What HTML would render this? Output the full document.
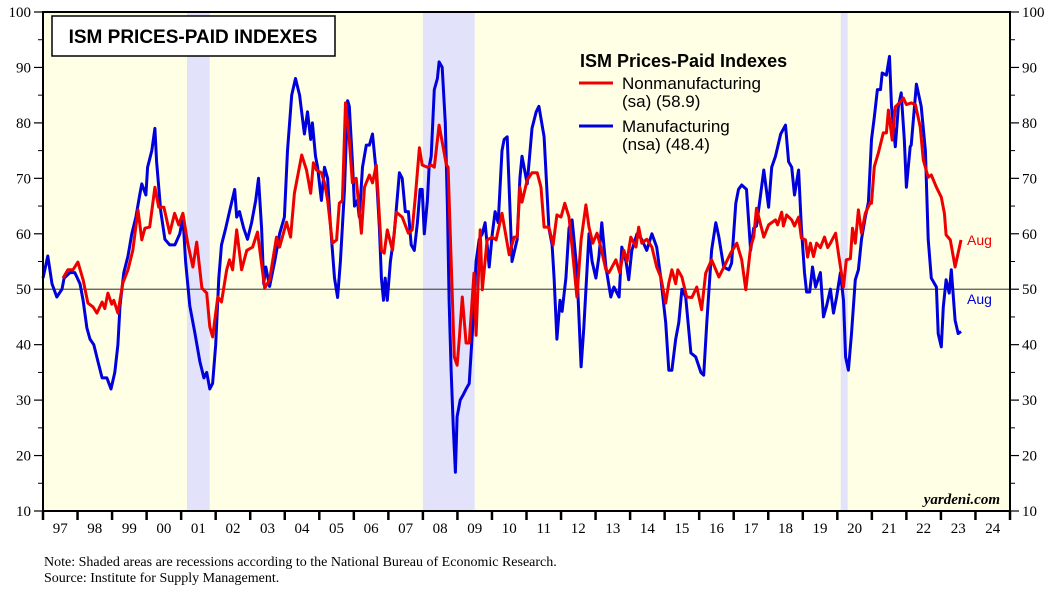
<!DOCTYPE html>
<html><head><meta charset="utf-8"><style>
body{margin:0;background:#fff;width:1063px;height:600px;overflow:hidden}
svg{display:block}
</style></head><body>
<svg id="chart" width="1063" height="600" xmlns="http://www.w3.org/2000/svg" font-family="Liberation Sans, sans-serif">
</svg>
<script>
const manDates=[1997.00,1997.14,1997.26,1997.40,1997.55,1997.61,1997.78,1997.92,1998.07,1998.16,1998.27,1998.36,1998.47,1998.59,1998.71,1998.85,1998.97,1999.08,1999.17,1999.23,1999.34,1999.46,1999.57,1999.69,1999.80,1999.86,1999.98,2000.03,2000.15,2000.24,2000.29,2000.41,2000.53,2000.67,2000.82,2000.96,2001.05,2001.13,2001.25,2001.40,2001.54,2001.66,2001.74,2001.83,2001.91,2002.00,2002.09,2002.17,2002.29,2002.40,2002.55,2002.61,2002.69,2002.81,2002.92,2003.04,2003.16,2003.24,2003.33,2003.39,2003.45,2003.56,2003.71,2003.85,2003.99,2004.08,2004.20,2004.31,2004.43,2004.57,2004.66,2004.75,2004.80,2004.89,2004.95,2005.06,2005.15,2005.24,2005.32,2005.44,2005.53,2005.61,2005.73,2005.82,2005.87,2005.96,2006.02,2006.10,2006.16,2006.25,2006.36,2006.45,2006.54,2006.65,2006.74,2006.80,2006.86,2006.91,2006.97,2007.06,2007.17,2007.32,2007.40,2007.49,2007.58,2007.66,2007.75,2007.84,2007.92,2007.98,2008.04,2008.13,2008.18,2008.24,2008.33,2008.42,2008.47,2008.56,2008.65,2008.71,2008.76,2008.82,2008.88,2008.94,2008.99,2009.08,2009.17,2009.25,2009.34,2009.43,2009.54,2009.63,2009.72,2009.80,2009.92,2010.01,2010.09,2010.18,2010.29,2010.35,2010.44,2010.58,2010.73,2010.81,2010.87,2011.02,2011.16,2011.28,2011.36,2011.51,2011.65,2011.74,2011.80,2011.88,2011.97,2012.03,2012.14,2012.23,2012.32,2012.46,2012.58,2012.66,2012.81,2012.90,2013.01,2013.10,2013.18,2013.30,2013.44,2013.53,2013.68,2013.76,2013.88,2013.96,2014.05,2014.20,2014.34,2014.48,2014.63,2014.77,2014.89,2015.03,2015.12,2015.21,2015.32,2015.41,2015.50,2015.61,2015.76,2015.90,2016.05,2016.13,2016.22,2016.36,2016.48,2016.57,2016.71,2016.86,2016.94,2017.06,2017.14,2017.23,2017.37,2017.49,2017.58,2017.66,2017.87,2018.01,2018.10,2018.21,2018.36,2018.50,2018.59,2018.68,2018.76,2018.88,2018.96,2019.05,2019.11,2019.20,2019.28,2019.37,2019.51,2019.60,2019.69,2019.80,2019.89,2019.98,2020.09,2020.18,2020.24,2020.32,2020.41,2020.52,2020.61,2020.70,2020.81,2020.90,2020.99,2021.07,2021.16,2021.25,2021.30,2021.42,2021.51,2021.57,2021.68,2021.77,2021.85,2021.94,2022.00,2022.11,2022.14,2022.29,2022.43,2022.55,2022.63,2022.72,2022.87,2022.92,2023.01,2023.07,2023.15,2023.24,2023.30,2023.41,2023.50,2023.58];
const manValues=[52,56,51,48.6,50,52,53,53,51,48,43,41,40,37,34,34,32,35,40,47,53,56,60,63,67,69,67,72,75,79,73,64,59,58,58,60,63,55,47,42,37,34,35,32,33,40,52,58,61,64,68,63,64,61,59,62,66,70,61,51,54,50.5,55,60,63,75,85,88,85,78,82,77,80,74,72,66,72,70,62,52,48.5,55,68,84,83,73,65,66,63,72,76,76,78,71,61,52,48,52,48,55,60,71,70,64,64,58,57,62,68,68,60,66,72,74,86,88,91,90,80,65,48,35,25,17,27,30,31,32,33,42,55,59,60,62,54,60,64,62,75,77,77.5,55,59,70,74,69,79,82,83,77.5,61,58,52,41,48,46,52,61,62.5,53.5,36,43,60,55,52,56,62,54,48.6,50.4,48.6,57.6,55,51.7,57,60,59,57,60,57.6,52,44,35.4,35.4,41,44,50,48.6,38.5,37.8,35,34.5,44,57,62,59.4,54,53.5,54.7,65.5,68,68.8,68,57,61,61.4,71.5,64.8,72,74,78,79.6,73,72,67,71.5,61,53,49.5,49.5,54,50.4,53,45,47,50,45.7,48.6,53,48,37.8,35.4,42,51.7,53.5,59,63,65.7,77,81,86,86,89,88.6,92,83,75.7,83,85.4,77,68.4,75.7,76,87,83,75,59,52,50.4,42,39.6,46.8,51.7,49.3,53.5,44.4,42,42.4,48.4];
const nonDates=[1997.58,1997.72,1997.87,1998.01,1998.16,1998.30,1998.45,1998.56,1998.71,1998.79,1998.88,1998.99,1999.05,1999.17,1999.31,1999.46,1999.60,1999.75,1999.86,1999.95,2000.09,2000.24,2000.35,2000.50,2000.67,2000.81,2000.93,2001.05,2001.19,2001.34,2001.45,2001.60,2001.74,2001.83,2001.91,2002.06,2002.17,2002.32,2002.40,2002.49,2002.61,2002.75,2002.90,2003.07,2003.21,2003.42,2003.56,2003.76,2003.85,2004.05,2004.17,2004.28,2004.49,2004.63,2004.75,2004.83,2004.92,2005.06,2005.15,2005.24,2005.38,2005.50,2005.58,2005.67,2005.76,2005.87,2005.96,2006.07,2006.22,2006.31,2006.45,2006.54,2006.65,2006.80,2006.88,2006.97,2007.12,2007.23,2007.40,2007.58,2007.69,2007.78,2007.90,2007.98,2008.13,2008.24,2008.33,2008.47,2008.68,2008.73,2008.85,2008.91,2008.99,2009.05,2009.14,2009.25,2009.34,2009.48,2009.54,2009.66,2009.72,2009.86,2010.01,2010.12,2010.29,2010.50,2010.64,2010.73,2010.81,2010.87,2011.02,2011.16,2011.31,2011.42,2011.51,2011.65,2011.77,2011.88,2012.00,2012.11,2012.23,2012.32,2012.46,2012.58,2012.72,2012.81,2012.92,2013.04,2013.15,2013.30,2013.39,2013.59,2013.70,2013.82,2013.91,2014.02,2014.17,2014.25,2014.34,2014.48,2014.63,2014.77,2014.89,2015.03,2015.12,2015.21,2015.32,2015.38,2015.50,2015.64,2015.79,2015.93,2016.07,2016.19,2016.36,2016.57,2016.77,2016.91,2017.09,2017.23,2017.35,2017.49,2017.58,2017.66,2017.87,2018.01,2018.21,2018.27,2018.39,2018.44,2018.53,2018.68,2018.76,2018.88,2018.96,2019.08,2019.14,2019.22,2019.31,2019.40,2019.51,2019.63,2019.72,2019.80,2019.95,2020.03,2020.18,2020.26,2020.38,2020.44,2020.52,2020.61,2020.70,2020.81,2020.96,2020.99,2021.07,2021.19,2021.33,2021.42,2021.48,2021.59,2021.68,2021.83,2021.91,2022.00,2022.14,2022.26,2022.40,2022.49,2022.63,2022.72,2022.87,2023.01,2023.10,2023.15,2023.27,2023.41,2023.58];
const nonValues=[52,53.5,53.5,54.9,51.7,47.5,46.8,45.7,47.7,46.5,49.3,47.3,48,45.7,51.1,53.5,57,64.3,58.9,61,61.2,68.4,64.8,64.8,60.1,63.7,61.6,63.7,58.3,54,58.5,50.2,49.3,43.2,41.4,48.6,47.7,53.5,55.3,53.5,60.7,53.5,57,57.6,60.3,50.2,51.7,59.4,57.6,62.1,59.4,67.3,74.2,71.5,67.3,72.8,71.5,71,69.2,66.1,58.3,58.9,65.5,66,83.6,76.9,69.2,70,60.1,68.4,70.6,69.2,72.4,57,56.5,60.7,57,63.9,63,60.1,60.7,66.6,75.5,72.4,72,72.4,72,79.6,72.4,72,49.3,37.8,36.3,40.8,48.6,40.3,40.3,52.9,41.7,60.7,49.9,58.9,59.4,58.9,63.7,56.2,59.4,59.4,68.4,65.7,69.7,71,71,68.4,61.2,61.2,58,63.4,63,65.5,63,57.6,48.6,58.9,65.2,61.2,58.3,60.1,57.6,53.5,53,55.3,53,57,55,59.4,57.6,61.2,58.3,59,57.6,54,52.2,47.5,51.1,53.5,51,53.5,52.2,48.6,48.5,50.4,46.3,52.9,55.3,52.2,54.7,56.5,58.3,55.3,49.9,57.6,59.4,64.6,59.4,61.6,62.5,61.6,63.9,61.4,63.4,62.5,61.4,63,59.2,58.9,55.8,58.3,55.9,58.3,57.5,59.4,57.5,58.3,60.1,56.5,50.4,55.3,55.5,61,58.3,64.3,60.1,63.7,65.7,65.5,72.1,74.6,78.2,78.2,82.3,76.9,82.9,83.8,84.5,83.3,83.6,83.3,79.3,73.3,70.2,70.6,68.4,66.6,63.7,59.8,58.9,54,58.9];
const recessionStarts=[2001.17,2008.0,2020.1];
const recessionEnds=[2001.83,2009.5,2020.3];
const yTicks=[10,20,30,40,50,60,70,80,90,100];
const yearLabels=["97","98","99","00","01","02","03","04","05","06","07","08","09","10","11","12","13","14","15","16","17","18","19","20","21","22","23","24"];

const L=43,R=1010,T=12,B=511,Y0=1997,Y1=2025,V0=10,V1=100;
const xs=d=>L+(d-Y0)/(Y1-Y0)*(R-L);
const ys=v=>B-(v-V0)/(V1-V0)*(B-T);
const svg=document.getElementById('chart');
const NS='http://www.w3.org/2000/svg';
function mk(tag,attrs,parent){const e=document.createElementNS(NS,tag);for(const k in attrs)e.setAttribute(k,attrs[k]);(parent||svg).appendChild(e);return e;}

let e=mk('rect',{x:L,y:T,width:R-L,height:B-T,fill:'#FFFFE6'});


recessionStarts.forEach((s,i)=>{
  const r=mk('rect',{x:xs(s),y:T,width:xs(recessionEnds[i])-xs(s),height:B-T,fill:'#E2E2FA'});
  
  
});
e=mk('line',{x1:L,x2:R,y1:ys(50),y2:ys(50),stroke:'#555',"stroke-width":1.2});



function series(dates,vals,color,name){
  const p=mk('polyline',{points:dates.map((d,i)=>xs(d).toFixed(1)+','+ys(vals[i]).toFixed(1)).join(' '),fill:'none',stroke:color,"stroke-width":3,"stroke-linejoin":"round"});
  
  
}
series(manDates,manValues,'#0000DD','manufacturing-line');
series(nonDates,nonValues,'#EE0000','nonmanufacturing-line');

e=mk('rect',{x:L,y:T,width:R-L,height:B-T,fill:'none',stroke:'#000',"stroke-width":2});



yTicks.forEach(v=>{
  const y=ys(v);
  mk('line',{x1:L-9,x2:L,y1:y,y2:y,stroke:'#000',"stroke-width":1.2});
  mk('line',{x1:R,x2:R+9,y1:y,y2:y,stroke:'#000',"stroke-width":1.2});
  if(v<100){const y5=ys(v+5);mk('line',{x1:L-5,x2:L,y1:y5,y2:y5,stroke:'#000'});mk('line',{x1:R,x2:R+5,y1:y5,y2:y5,stroke:'#000'});}
  let t=mk('text',{x:L-12,y:y+5,"text-anchor":"end","font-family":"Liberation Serif, serif","font-size":15});
  t.textContent=v;
  
  
  t=mk('text',{x:R+12,y:y+5,"font-family":"Liberation Serif, serif","font-size":15});
  t.textContent=v;
  
  
});
yearLabels.forEach((lab,i)=>{
  const x=xs(Y0+i);
  mk('line',{x1:x,x2:x,y1:B,y2:B+9,stroke:'#000',"stroke-width":2.5});
  const t=mk('text',{x:xs(Y0+i+0.5),y:B+22,"text-anchor":"middle","font-family":"Liberation Serif, serif","font-size":15});
  t.textContent=lab;
  
  
});
mk('line',{x1:R,x2:R,y1:B,y2:B+9,stroke:'#000',"stroke-width":2.5});
</script>
<svg style="position:absolute;left:0;top:0" width="1063" height="600" xmlns="http://www.w3.org/2000/svg" font-family="Liberation Sans, sans-serif">
  <g>
    <rect x="52" y="16" width="283" height="40" fill="#fff" stroke="#000" stroke-width="1.5"/>
    <text x="193" y="43" text-anchor="middle" font-size="19" font-weight="bold">ISM PRICES-PAID INDEXES</text>
  </g>
  <g>
    <text x="580" y="67" font-size="18" font-weight="bold">ISM Prices-Paid Indexes</text>
    <line x1="579" x2="613" y1="83" y2="83" stroke="#EE0000" stroke-width="3"/>
    <text x="622" y="89" font-size="17">Nonmanufacturing</text>
    <text x="622" y="107" font-size="17">(sa) (58.9)</text>
    <line x1="579" x2="613" y1="126" y2="126" stroke="#0000DD" stroke-width="3"/>
    <text x="622" y="132" font-size="17">Manufacturing</text>
    <text x="622" y="150" font-size="17">(nsa) (48.4)</text>
  </g>
  <text x="967" y="245" font-size="14" fill="#EE0000">Aug</text>
  <text x="967" y="304" font-size="14" fill="#0000DD">Aug</text>
  <text x="1000" y="504" text-anchor="end" font-family="Liberation Serif, serif" font-size="15" font-style="italic" font-weight="bold">yardeni.com</text>
  <text x="44" y="566" font-family="Liberation Serif, serif" font-size="14">Note: Shaded areas are recessions according to the National Bureau of Economic Research.</text>
  <text x="44" y="582" font-family="Liberation Serif, serif" font-size="14">Source: Institute for Supply Management.</text>
</svg>
</body></html>
